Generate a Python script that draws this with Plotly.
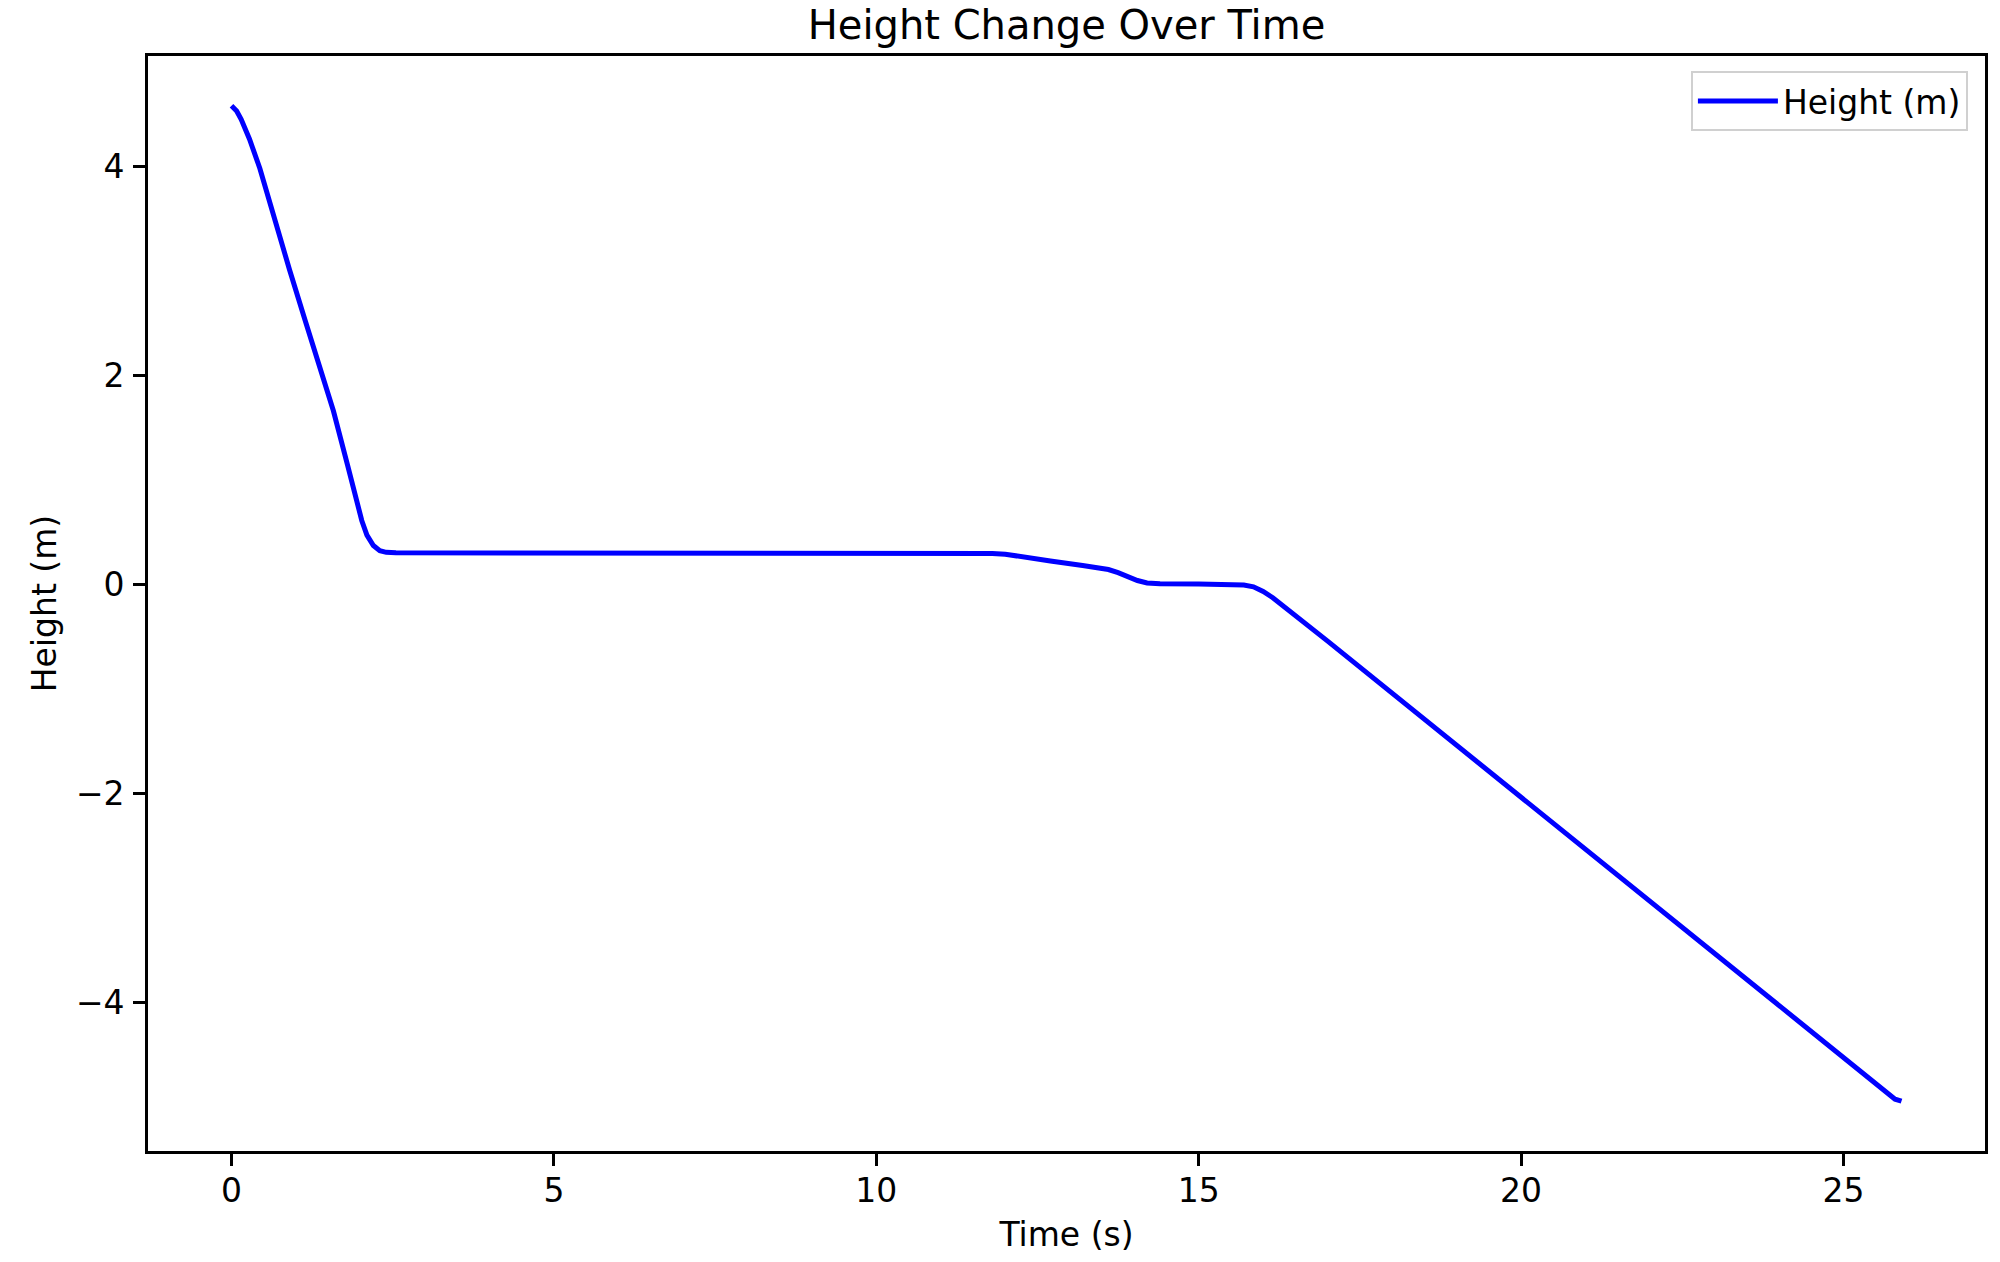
import plotly.graph_objects as go

# Data
time_s = [0.0, 0.08, 0.15, 0.28, 0.44, 0.62, 0.9, 1.14, 1.4, 1.58, 1.8, 1.95, 2.02, 2.1, 2.2, 2.3,
          2.4, 2.55, 3.0, 5.0, 8.0, 11.0, 11.8, 12.0, 12.2, 12.7, 13.2, 13.6, 13.75, 13.9, 14.05,
          14.2, 14.4, 15.0, 15.5, 15.7, 15.85, 16.0, 16.15, 16.5, 17.0, 20.0, 23.0, 25.5, 25.6,
          25.7, 25.8, 25.9]
height_m = [4.58, 4.53, 4.45, 4.26, 3.98, 3.59, 3.01, 2.53, 2.02, 1.66, 1.14, 0.78, 0.61, 0.47, 0.37, 0.32,
            0.305, 0.30, 0.30, 0.298, 0.296, 0.295, 0.294, 0.287, 0.265, 0.222, 0.178, 0.14, 0.11, 0.07, 0.035,
            0.012, 0.004, 0.002, 0.0, -0.008, -0.025, -0.07, -0.13, -0.30, -0.545, -2.04, -3.54, -4.79, -4.84,
            -4.89, -4.93, -4.95]

x_ticks = [0, 5, 10, 15, 20, 25]
y_ticks = [-4, -2, 0, 2, 4]
y_tick_text = ["\u22124", "\u22122", "0", "2", "4"]

FONT = "DejaVu Sans"

# The page body has an 8px default margin; size the figure so it fills the 2000x1262 window.
FIG_W, FIG_H = 1984, 1246

fig = go.Figure()
fig.add_trace(go.Scatter(
    x=time_s, y=height_m, mode="lines", name="Height (m)",
    line=dict(color="#0000ff", width=5),
))

xmin, xmax = min(time_s), max(time_s)
ymin, ymax = min(height_m), max(height_m)
xpad = 0.05 * (xmax - xmin)
ypad = 0.05 * (ymax - ymin)

axis_common = dict(
    showline=True, linecolor="black", linewidth=2.6, mirror=True,
    ticks="outside", ticklen=12, tickwidth=2.6, tickcolor="black",
    showgrid=False, zeroline=False, automargin=False,
    tickfont=dict(family=FONT, size=33, color="black"),
)

fig.update_layout(
    width=FIG_W, height=FIG_H,
    margin=dict(l=140, r=7, t=48, b=103),
    paper_bgcolor="white", plot_bgcolor="white",
    font=dict(family=FONT, color="black"),
    title=dict(text="Height Change Over Time", font=dict(family=FONT, size=40, color="black"),
               x=0.5, xanchor="center", y=1 - 17 / FIG_H, yanchor="middle",
               xref="paper"),
    xaxis=dict(range=[xmin - xpad, xmax + xpad], tickvals=x_ticks,
               ticklabelstandoff=-3,
               title=dict(text="Time (s)", font=dict(family=FONT, size=33), standoff=15),
               **axis_common),
    yaxis=dict(range=[ymin - ypad, ymax + ypad], tickvals=y_ticks, ticktext=y_tick_text,
               ticklabelstandoff=2,
               title=dict(text="Height (m)", font=dict(family=FONT, size=33), standoff=10),
               **axis_common),
    showlegend=True,
    legend=dict(x=0.9907, y=0.9863, xanchor="right", yanchor="top",
                bgcolor="rgba(255,255,255,0.8)", bordercolor="#d0d0d0", borderwidth=2,
                font=dict(family=FONT, size=33, color="black"), itemwidth=80),
)

fig.write_html("out.html")
